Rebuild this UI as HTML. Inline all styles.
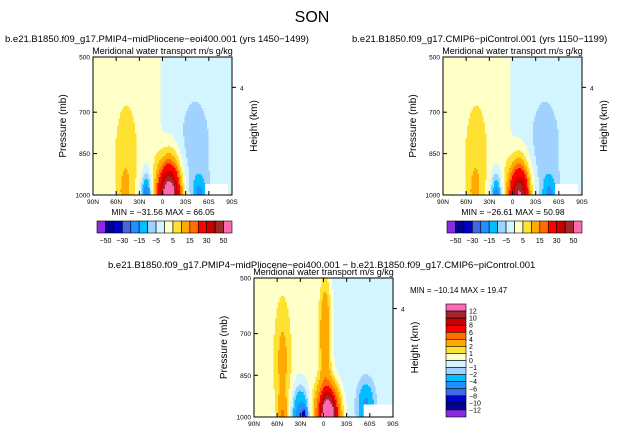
<!DOCTYPE html>
<html><head><meta charset="utf-8">
<style>
html,body{margin:0;padding:0;background:#fff;}
svg{display:block;font-family:"Liberation Sans",sans-serif;}
</style></head>
<body>
<svg id="fig" width="624" height="435" viewBox="0 0 624 435">
<text x="312" y="22" font-size="16" text-anchor="middle" fill="#000">SON</text>
<text x="5" y="42" font-size="9.5">b.e21.B1850.f09_g17.PMIP4−midPliocene−eoi400.001 (yrs 1450−1499)</text>
<text x="352" y="42" font-size="9.5">b.e21.B1850.f09_g17.CMIP6−piControl.001 (yrs 1150−1199)</text>
<text x="108" y="268" font-size="9.5">b.e21.B1850.f09_g17.PMIP4−midPliocene−eoi400.001 − b.e21.B1850.f09_g17.CMIP6−piControl.001</text>
<g id="panels"></g>
</svg>
<script>
// ---- data ----
const latTicks = [-90,-60,-30,0,30,60,90];
const latTickLabels = ['90N','60N','30N','0','30S','60S','90S'];
const pTicks = [500,700,850,1000];
const levelsTop = [-50,-40,-30,-20,-15,-10,-5,0,5,10,15,20,30,40,50];
const levelsDiff = [-12,-10,-8,-6,-4,-2,-1,0,1,2,4,6,8,10,12];
const colors = ['#8a2be2','#00008b','#0000cd','#4169e1','#1e90ff','#00bfff','#a0d2ff','#d2f5ff','#ffffc8','#ffe132','#ffaa00','#ff6e00','#ff0000','#c80000','#a02828','#ff69b4'];
// blobs: lat, pressure, lat-width, p-width, amplitude
const p1Lat = [-47,-49,-21,9,8,42,48];
const p1P   = [860,1000,1000,1000,1000,830,1000];
const p1WL  = [15,9,7,15,10,22,10];
const p1WP  = [200,80,80,130,60,200,70];
const p1Amp = [7,6,-22,48,22,-6,-12];
const p2Lat = [-47,-49,-21,9,8,42,48];
const p2P   = [860,1000,1000,1000,1000,830,1000];
const p2WL  = [15,9,7,14,9,22,10];
const p2WP  = [200,80,80,125,55,200,70];
const p2Amp = [7,6,-20,40,14,-6,-12];
const p3Lat = [-53,-53,-30,-25,2,6,55];
const p3P   = [800,1000,1000,1000,700,1000,960];
const p3WL  = [10,6,10,3,8,13,10];
const p3WP  = [200,70,100,30,220,100,80];
const p3Amp = [2,3,-6,-8,4,17,-4];
const bgLeft = [2,2,0.5], bgRight = [-2,-2,-0.5], bgLat0 = [-3,-3,-8];
const maskLat0 = [[55,-68],[55,-68],[52,-70]];
const maskLat1 = [[85,-60],[85,-60],[90,-62]];
const maskP0 = [[960,985],[960,985],[955,985]];

const NS='http://www.w3.org/2000/svg';
function mk(tag,attrs,parent){const e=document.createElementNS(NS,tag);for(const k in attrs)e.setAttribute(k,attrs[k]);parent.appendChild(e);return e;}
const root=document.getElementById('panels');

function drawPanel(idx,X0,Y0,W,H,lat,pc,wl,wp,amp,levels,name){
  const g=mk('g',{},root);
  
  
  const xOf=l=>X0+(l+90)/180*W;
  const yOf=p=>Y0+(p-500)/500*H;
  const f=(la,p)=>{let v=bgLeft[idx]+(bgRight[idx]-bgLeft[idx])*0.5*(1+Math.tanh((la-bgLat0[idx])/5));
    for(let i=0;i<lat.length;i++)v+=amp[i]*Math.exp(-Math.pow((la-lat[i])/wl[i],2)-Math.pow((p-pc[i])/wp[i],2));return v;};
  const ci=v=>{let k=0;while(k<levels.length&&v>levels[k])k++;return k;};
  const step=1.5, nx=Math.ceil(W/step), ny=Math.ceil(H/step);
  for(let j=0;j<ny;j++){
    const p=500+(j+0.5)*step/H*500;
    let start=0,cur=-1;
    for(let i=0;i<=nx;i++){
      let c=-2;
      if(i<nx){const la=-90+(i+0.5)*step/W*180;c=ci(f(la,p));}
      if(c!==cur){
        if(cur>=0){const r=mk('rect',{x:(X0+start*step).toFixed(2),y:(Y0+j*step).toFixed(2),width:Math.min((i-start)*step+0.4,X0+W-(X0+start*step)).toFixed(2),height:Math.min(step+0.4,Y0+H-(Y0+j*step)).toFixed(2),fill:colors[cur]},g);
          
          }
        start=i;cur=c;
      }
    }
  }
  for(let m=0;m<2;m++){
    const r=mk('rect',{x:xOf(maskLat0[idx][m]),y:yOf(maskP0[idx][m]),width:xOf(maskLat1[idx][m])-xOf(maskLat0[idx][m]),height:yOf(1000)-yOf(maskP0[idx][m]),fill:'#fff'},g);
    
    
  }
  const fr=mk('rect',{x:X0,y:Y0,width:W,height:H,fill:'none',stroke:'#000','stroke-width':1},g);
  
  
  latTicks.forEach((l,i)=>{const x=xOf(l);
    mk('line',{x1:x,y1:Y0+H,x2:x,y2:Y0+H-4,stroke:'#000'},g);
    mk('line',{x1:x,y1:Y0,x2:x,y2:Y0+4,stroke:'#000'},g);
    const t=mk('text',{x:x,y:Y0+H+9,'font-size':6.5,'text-anchor':'middle'},g);t.textContent=latTickLabels[i];
    
    });
  pTicks.forEach(p=>{const y=yOf(p);
    mk('line',{x1:X0,y1:y,x2:X0+4,y2:y,stroke:'#000'},g);
    const t=mk('text',{x:X0-3,y:y+2.5,'font-size':6.5,'text-anchor':'end'},g);t.textContent=p;
    
    });
  const hy=Y0+H*0.22;
  mk('line',{x1:X0+W,y1:hy,x2:X0+W+4,y2:hy,stroke:'#000'},g);
  const h4=mk('text',{x:X0+W+8,y:hy+3,'font-size':6.5},g);h4.textContent='4';
  
  
  const st=mk('text',{x:X0+W/2,y:Y0-3,'font-size':9,'text-anchor':'middle'},g);st.textContent='Meridional water transport m/s g/kg';
  
  
  const yl=mk('text',{x:0,y:0,'font-size':10,'text-anchor':'middle',transform:`translate(${X0-27},${Y0+H/2}) rotate(-90)`},g);yl.textContent='Pressure (mb)';
  
  
  const yr=mk('text',{x:0,y:0,'font-size':10,'text-anchor':'middle',transform:`translate(${X0+W+25},${Y0+H/2}) rotate(-90)`},g);yr.textContent='Height (km)';
  
  
}
drawPanel(0,93,57,139,138,p1Lat,p1P,p1WL,p1WP,p1Amp,levelsTop,'left-panel');
drawPanel(1,443,57,139,138,p2Lat,p2P,p2WL,p2WP,p2Amp,levelsTop,'right-panel');
drawPanel(2,254,278,139,139,p3Lat,p3P,p3WL,p3WP,p3Amp,levelsDiff,'diff-panel');

const minmaxText=['MIN = −31.56   MAX =  66.05','MIN = −26.61   MAX =  50.98'];
[93,443].forEach((X0,k)=>{
  const t=mk('text',{x:X0+70,y:215,'font-size':8.5,'text-anchor':'middle'},root);t.textContent=minmaxText[k];
  
  
  const g=mk('g',{},root);
  
  
  const bx=X0+4,bw=135/16;
  colors.forEach((c,i)=>{const r=mk('rect',{x:bx+i*bw,y:221,width:bw,height:12,fill:c,stroke:'#000','stroke-width':0.6},g);
    
    });
  levelsTop.forEach((v,i)=>{if(i%2)return;const l=mk('text',{x:bx+(i+1)*bw,y:243,'font-size':7,'text-anchor':'middle'},g);l.textContent=String(v).replace('-','−');
    
    });
});
const mm=mk('text',{x:410,y:293,'font-size':8},root);mm.textContent='MIN = −10.14   MAX =  19.47';


const vg=mk('g',{},root);


const bh=113/16;
colors.slice().reverse().forEach((c,i)=>{const r=mk('rect',{x:446,y:304+i*bh,width:20,height:bh,fill:c,stroke:'#000','stroke-width':0.6},vg);
  
  });
levelsDiff.slice().reverse().forEach((v,i)=>{const l=mk('text',{x:469,y:304+(i+1)*bh+2.5,'font-size':7},vg);l.textContent=String(v).replace('-','−');
  
  });
</script>
</body></html>
